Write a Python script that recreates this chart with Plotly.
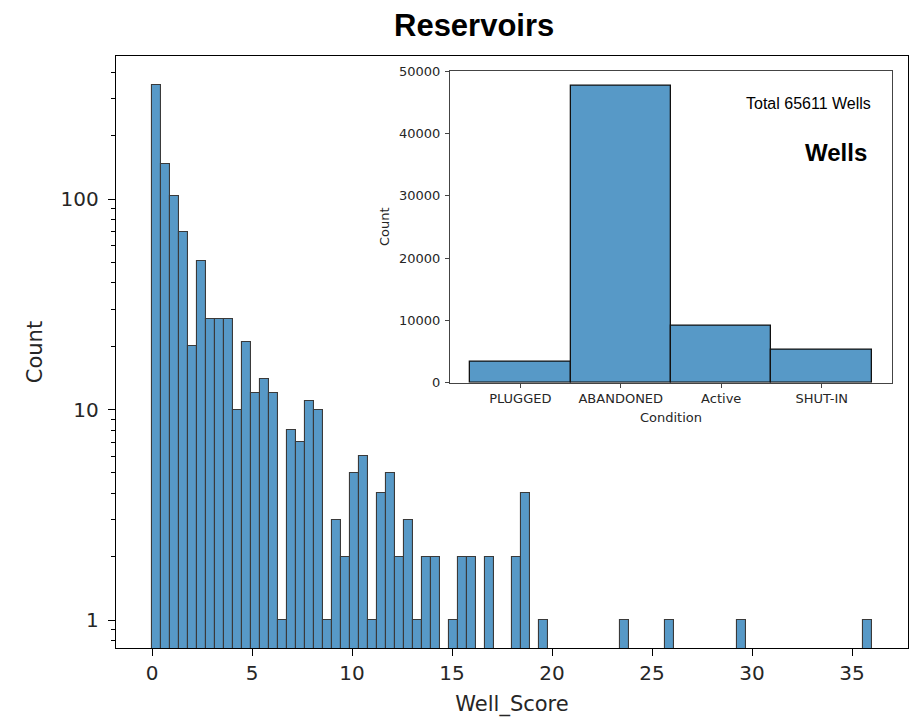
import plotly.graph_objects as go

# Well_Score histogram: 80 bins of width 0.45 starting at 0
bin_width = 0.45
score_counts = [
    350, 147, 104, 70, 20, 51, 27, 27, 27, 10,
    21, 12, 14, 12, 1, 8, 7, 11, 10, 1,
    3, 2, 5, 6, 1, 4, 5, 2, 3, 1,
    2, 2, 0, 1, 2, 2, 0, 2, 0, 0,
    2, 4, 0, 1, 0, 0, 0, 0, 0, 0,
    0, 0, 1, 0, 0, 0, 0, 1, 0, 0,
    0, 0, 0, 0, 0, 1, 0, 0, 0, 0,
    0, 0, 0, 0, 0, 0, 0, 0, 0, 1,
]
x_ticks = [0, 5, 10, 15, 20, 25, 30, 35]
y_major = [1, 10, 100]
y_minor = [0.8, 0.9, 2, 3, 4, 5, 6, 7, 8, 9,
           20, 30, 40, 50, 60, 70, 80, 90, 200, 300, 400]

# Well condition counts for the inset
conditions = ["PLUGGED", "ABANDONED", "Active", "SHUT-IN"]
condition_counts = [3450, 47700, 9180, 5281]
inset_y_ticks = [0, 10000, 20000, 30000, 40000, 50000]
total_wells = sum(condition_counts)

W, H = 923, 717


def px(x):
    return x / W


def py(y):
    return 1 - y / H


BAR_FILL = "#5799c7"
TEXT = "#262626"
MPL_FONT = "DejaVu Sans"
ARIAL = "Liberation Sans, Arial"

hist_x = [(i + 0.5) * bin_width for i, c in enumerate(score_counts) if c > 0]
hist_y = [c for c in score_counts if c > 0]

fig = go.Figure()

fig.add_trace(go.Bar(
    x=hist_x, y=hist_y, width=bin_width,
    marker=dict(color=BAR_FILL, line=dict(color="#3a3a3a", width=1.1)),
    xaxis="x", yaxis="y", showlegend=False,
))

fig.add_trace(go.Bar(
    x=conditions, y=condition_counts, width=1.0,
    marker=dict(color=BAR_FILL, line=dict(color="#111111", width=1.3)),
    xaxis="x2", yaxis="y2", showlegend=False,
))

fig.update_layout(
    width=W, height=H,
    margin=dict(l=0, r=0, t=0, b=0),
    paper_bgcolor="white", plot_bgcolor="white",
    bargap=0,
    xaxis=dict(
        domain=[px(116), px(908)], anchor="y", automargin=False,
        range=[-1.8, 37.8],
        tickmode="array", tickvals=x_ticks,
        ticks="outside", ticklen=7, tickwidth=1.4, tickcolor="black",
        showline=True, linecolor="black", linewidth=1.4, mirror=True,
        showgrid=False, zeroline=False,
        tickfont=dict(family=MPL_FONT, size=20, color=TEXT),
        title=dict(text="Well_Score", standoff=12,
                   font=dict(family=MPL_FONT, size=21, color=TEXT)),
    ),
    yaxis=dict(
        domain=[py(648), py(56)], anchor="x", automargin=False,
        type="log", range=[-0.133, 2.681],
        tickmode="array", tickvals=y_major, ticktext=["1", "10", "100"],
        ticks="outside", ticklen=7, tickwidth=1.4, tickcolor="black",
        ticklabelstandoff=5,
        minor=dict(tickmode="array", tickvals=y_minor, ticks="outside",
                   ticklen=4, tickwidth=1.1, tickcolor="black", showgrid=False),
        showline=True, linecolor="black", linewidth=1.4, mirror=True,
        showgrid=False, zeroline=False,
        tickfont=dict(family=MPL_FONT, size=20, color=TEXT),
        title=dict(text="Count", standoff=12,
                   font=dict(family=MPL_FONT, size=21, color=TEXT)),
    ),
    xaxis2=dict(
        domain=[px(450), px(892)], anchor="y2", automargin=False,
        type="category", range=[-0.7, 3.7],
        ticks="outside", ticklen=4, tickwidth=1, tickcolor="#444",
        showline=True, linecolor="#444", linewidth=1, mirror=True,
        showgrid=False, zeroline=False,
        tickfont=dict(family=MPL_FONT, size=13, color=TEXT),
        title=dict(text="Condition", standoff=7,
                   font=dict(family=MPL_FONT, size=13, color=TEXT)),
    ),
    yaxis2=dict(
        domain=[py(382.7), py(70.7)], anchor="x2", automargin=False,
        range=[0, 50100],
        tickmode="array", tickvals=inset_y_ticks, tickformat="d",
        ticks="outside", ticklen=4, tickwidth=1, tickcolor="#444",
        ticklabelstandoff=2,
        showline=True, linecolor="#444", linewidth=1, mirror=True,
        showgrid=False, zeroline=False,
        tickfont=dict(family=MPL_FONT, size=13, color=TEXT),
        title=dict(text="Count", standoff=6,
                   font=dict(family=MPL_FONT, size=13, color=TEXT)),
    ),
    annotations=[
        dict(text="<b>Reservoirs</b>", x=px(473.5), y=py(26),
             xref="paper", yref="paper", xanchor="center", yanchor="middle",
             showarrow=False, font=dict(family=ARIAL, size=31, color="black")),
        dict(text=f"Total {total_wells} Wells", x=px(872.5), y=py(103.5),
             xref="paper", yref="paper", xanchor="right", yanchor="middle",
             showarrow=False, font=dict(family=ARIAL, size=16, color="black")),
        dict(text="<b>Wells</b>", x=px(868.5), y=py(152),
             xref="paper", yref="paper", xanchor="right", yanchor="middle",
             showarrow=False, font=dict(family=ARIAL, size=24, color="black")),
    ],
)

fig.write_html("out.html")
